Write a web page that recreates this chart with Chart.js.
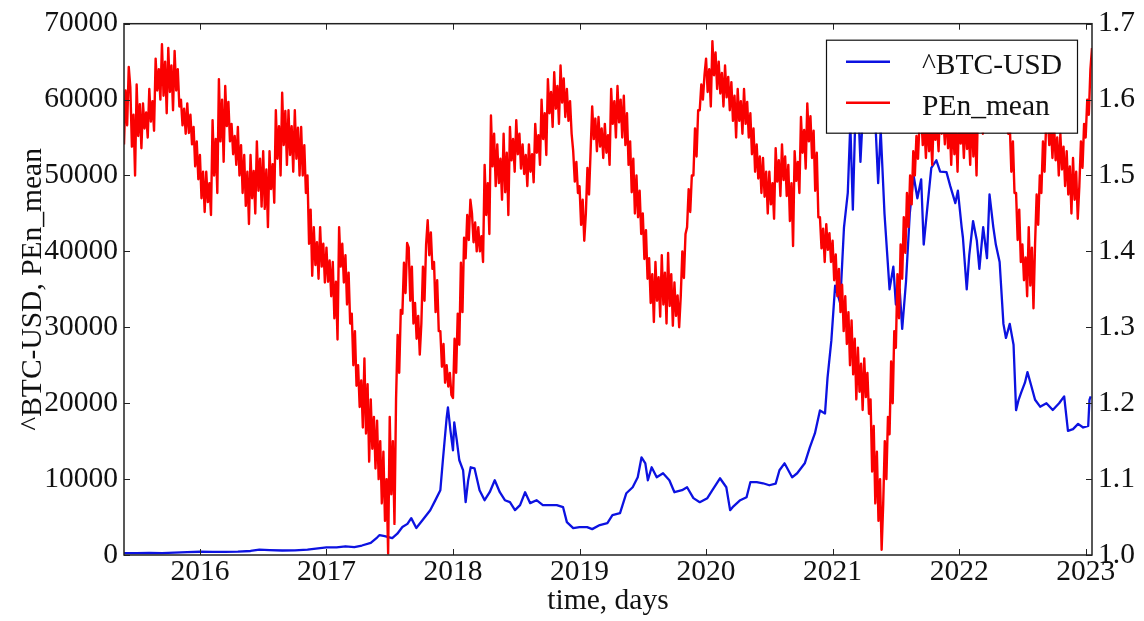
<!DOCTYPE html>
<html>
<head>
<meta charset="utf-8">
<title>^BTC-USD and PEn_mean</title>
<script src="https://cdn.jsdelivr.net/npm/chart.js@4.4.1/dist/chart.umd.min.js"></script>
<style>
  html, body { margin: 0; padding: 0; background: #fff; }
  canvas { display: block; }
</style>
</head>
<body>
<canvas id="myChart" width="1144" height="621"></canvas>
<script>
const seriesNames = ['^BTC-USD', 'PEn_mean'];
const xTicks = [2016, 2017, 2018, 2019, 2020, 2021, 2022, 2023];
const leftTicks = [0, 10000, 20000, 30000, 40000, 50000, 60000, 70000];
const rightTicks = [1.0, 1.1, 1.2, 1.3, 1.4, 1.5, 1.6, 1.7];

// BTC close, decimal year -> USD
const btcDates = [
  2015.40, 2015.50, 2015.60, 2015.70, 2015.80, 2015.90, 2016.00, 2016.10, 2016.20, 2016.30,
  2016.40, 2016.47, 2016.55, 2016.65, 2016.75, 2016.85, 2016.95, 2017.00, 2017.08, 2017.15,
  2017.22, 2017.28, 2017.35, 2017.40, 2017.42, 2017.46, 2017.52, 2017.56, 2017.60, 2017.64,
  2017.67, 2017.71, 2017.76, 2017.82, 2017.86, 2017.90, 2017.92, 2017.95, 2017.96, 2017.98,
  2018.00, 2018.01, 2018.03, 2018.05, 2018.08, 2018.10, 2018.12, 2018.14, 2018.17, 2018.21,
  2018.25, 2018.29, 2018.33, 2018.37, 2018.41, 2018.45, 2018.49, 2018.53, 2018.57, 2018.61,
  2018.66, 2018.71, 2018.77, 2018.82, 2018.87, 2018.90, 2018.95, 2019.00, 2019.06, 2019.10,
  2019.16, 2019.22, 2019.26, 2019.32, 2019.37, 2019.42, 2019.46, 2019.49, 2019.52, 2019.54,
  2019.57, 2019.61, 2019.66, 2019.71, 2019.75, 2019.81, 2019.85, 2019.90, 2019.95, 2020.01,
  2020.05, 2020.11, 2020.16, 2020.19, 2020.21, 2020.27, 2020.32, 2020.35, 2020.40, 2020.45,
  2020.50, 2020.55, 2020.58, 2020.62, 2020.68, 2020.72, 2020.78, 2020.82, 2020.86, 2020.90,
  2020.94, 2020.96, 2020.99, 2021.02, 2021.06, 2021.09, 2021.12, 2021.14, 2021.16, 2021.18,
  2021.20, 2021.22, 2021.24, 2021.27, 2021.30, 2021.33, 2021.36, 2021.38, 2021.41, 2021.43,
  2021.45, 2021.48, 2021.50, 2021.53, 2021.55, 2021.58, 2021.61, 2021.64, 2021.67, 2021.70,
  2021.72, 2021.75, 2021.78, 2021.82, 2021.85, 2021.90, 2021.93, 2021.97, 2021.99, 2022.02,
  2022.03, 2022.06, 2022.08, 2022.11, 2022.14, 2022.16, 2022.19, 2022.22, 2022.24, 2022.27,
  2022.29, 2022.32, 2022.35, 2022.37, 2022.40, 2022.43, 2022.45, 2022.47, 2022.49, 2022.52,
  2022.54, 2022.57, 2022.60, 2022.64, 2022.69, 2022.74, 2022.79, 2022.83, 2022.86, 2022.90,
  2022.94, 2022.98, 2023.02, 2023.03, 2023.04
];
const btcClose = [
  240, 250, 280, 240, 300, 380, 430, 400, 420, 450,
  530, 700, 650, 590, 620, 710, 900, 1000, 1000, 1150,
  1050, 1250, 1600, 2300, 2630, 2500, 2230, 2800, 3680, 4100,
  4860, 3550, 4600, 5900, 7200, 8540, 12480, 18100, 19440, 16400,
  13800, 17470, 15100, 12480, 11160, 6960, 9850, 11560, 11420, 8540,
  7220, 8270, 9850, 8270, 7220, 6960, 5910, 6570, 8270, 6830,
  7220, 6570, 6570, 6570, 6300, 4330, 3550, 3680, 3680, 3410,
  3940, 4200, 5250, 5520, 8140, 8930, 10240, 12870, 12080, 9850,
  11560, 10240, 10770, 9850, 8270, 8540, 8930, 7490, 6960, 7490,
  8540, 10110, 8930, 5910, 6300, 7220, 7620, 9590, 9590, 9450,
  9190, 9400, 11160, 12080, 10240, 10770, 12080, 14180, 16020, 19040,
  18650, 23380, 28240, 35500, 33180, 43180, 47720, 56810, 45500, 58000,
  60000, 51800, 58500, 61000, 57500, 60000, 49000, 56000, 45000, 40000,
  35000, 38000, 33000, 35000, 29800, 36000, 45000, 50000, 47000, 49500,
  40900, 46000, 51000, 52000, 50500, 50450, 48600, 46360, 48000, 43180,
  41800, 35000, 39500, 44000, 41400, 37700, 43200, 39100, 47500, 43200,
  40900, 38600, 30450, 28600, 30450, 27700, 19090, 20450, 21400, 22700,
  24100, 22300, 20450, 19540, 20000, 19100, 20000, 20900, 16360, 16590,
  17270, 16800, 17000, 20450, 20900
];

// PEn_mean, one value every 0.0125 year from penStart
const penStart = 2015.40;
const penStep = 0.0125;
const penMean = [
  1.541, 1.612, 1.566, 1.643, 1.616, 1.538, 1.580, 1.500, 1.620, 1.552, 1.594, 1.536,
  1.595, 1.562, 1.583, 1.550, 1.614, 1.571, 1.598, 1.559, 1.654, 1.612, 1.640, 1.600,
  1.673, 1.605, 1.650, 1.582, 1.668, 1.610, 1.645, 1.586, 1.664, 1.612, 1.640, 1.591,
  1.600, 1.566, 1.588, 1.555, 1.595, 1.556, 1.580, 1.541, 1.564, 1.512, 1.545, 1.495,
  1.527, 1.470, 1.505, 1.452, 1.505, 1.465, 1.490, 1.448, 1.573, 1.500, 1.548, 1.477,
  1.627, 1.545, 1.600, 1.518, 1.618, 1.565, 1.597, 1.545, 1.568, 1.528, 1.552, 1.514,
  1.564, 1.500, 1.540, 1.477, 1.527, 1.460, 1.505, 1.436, 1.527, 1.470, 1.506, 1.450,
  1.545, 1.480, 1.522, 1.459, 1.532, 1.456, 1.508, 1.432, 1.532, 1.482, 1.515, 1.464,
  1.586, 1.522, 1.565, 1.500, 1.609, 1.540, 1.585, 1.514, 1.586, 1.527, 1.565, 1.505,
  1.586, 1.522, 1.563, 1.500, 1.564, 1.500, 1.540, 1.477, 1.500, 1.410, 1.455, 1.368,
  1.432, 1.382, 1.412, 1.364, 1.432, 1.380, 1.410, 1.359, 1.405, 1.360, 1.388, 1.341,
  1.386, 1.312, 1.360, 1.284, 1.432, 1.380, 1.410, 1.359, 1.395, 1.330, 1.372, 1.305,
  1.318, 1.250, 1.295, 1.223, 1.250, 1.195, 1.230, 1.168, 1.259, 1.160, 1.225, 1.123,
  1.205, 1.140, 1.182, 1.114, 1.177, 1.100, 1.150, 1.068, 1.136, 1.045, 1.100, 1.002,
  1.182, 1.080, 1.150, 1.041, 1.205, 1.290, 1.240, 1.323, 1.318, 1.385, 1.345, 1.411,
  1.405, 1.335, 1.380, 1.305, 1.332, 1.285, 1.315, 1.264, 1.305, 1.380, 1.335, 1.409,
  1.441, 1.395, 1.425, 1.377, 1.386, 1.320, 1.362, 1.295, 1.295, 1.248, 1.278, 1.227,
  1.250, 1.222, 1.240, 1.211, 1.207, 1.285, 1.240, 1.318, 1.277, 1.385, 1.320, 1.418,
  1.391, 1.448, 1.415, 1.468, 1.450, 1.412, 1.438, 1.400, 1.432, 1.400, 1.420, 1.386,
  1.514, 1.448, 1.490, 1.423, 1.579, 1.512, 1.555, 1.486, 1.541, 1.490, 1.522, 1.468,
  1.555, 1.478, 1.530, 1.448, 1.564, 1.520, 1.548, 1.505, 1.573, 1.528, 1.555, 1.509,
  1.541, 1.502, 1.527, 1.486, 1.541, 1.505, 1.528, 1.491, 1.568, 1.530, 1.553, 1.514,
  1.600, 1.548, 1.582, 1.527, 1.627, 1.582, 1.610, 1.564, 1.636, 1.588, 1.618, 1.568,
  1.645, 1.596, 1.628, 1.577, 1.614, 1.572, 1.598, 1.555, 1.532, 1.492, 1.518, 1.477,
  1.486, 1.435, 1.468, 1.414, 1.450, 1.510, 1.475, 1.532, 1.591, 1.548, 1.575, 1.532,
  1.577, 1.538, 1.562, 1.523, 1.568, 1.530, 1.553, 1.514, 1.614, 1.568, 1.598, 1.550,
  1.618, 1.570, 1.600, 1.550, 1.605, 1.540, 1.582, 1.514, 1.545, 1.478, 1.522, 1.450,
  1.500, 1.445, 1.480, 1.423, 1.450, 1.390, 1.428, 1.364, 1.391, 1.332, 1.370, 1.307,
  1.386, 1.335, 1.366, 1.314, 1.395, 1.330, 1.372, 1.305, 1.398, 1.328, 1.370, 1.302,
  1.359, 1.315, 1.342, 1.300, 1.341, 1.400, 1.365, 1.423, 1.432, 1.482, 1.452, 1.500,
  1.500, 1.562, 1.525, 1.586, 1.586, 1.620, 1.600, 1.632, 1.654, 1.610, 1.640, 1.591,
  1.677, 1.632, 1.662, 1.614, 1.650, 1.608, 1.635, 1.591, 1.645, 1.603, 1.630, 1.586,
  1.623, 1.572, 1.605, 1.550, 1.614, 1.572, 1.598, 1.555, 1.614, 1.568, 1.597, 1.550,
  1.582, 1.528, 1.562, 1.505, 1.541, 1.496, 1.525, 1.477, 1.523, 1.472, 1.505, 1.450,
  1.505, 1.462, 1.490, 1.443, 1.536, 1.492, 1.520, 1.473, 1.541, 1.494, 1.525, 1.473,
  1.514, 1.440, 1.490, 1.407, 1.532, 1.493, 1.518, 1.477, 1.577, 1.530, 1.560, 1.509,
  1.595, 1.545, 1.578, 1.523, 1.559, 1.480, 1.530, 1.445, 1.445, 1.404, 1.430, 1.386,
  1.436, 1.402, 1.424, 1.386, 1.414, 1.362, 1.396, 1.341, 1.377, 1.320, 1.356, 1.295,
  1.341, 1.278, 1.320, 1.250, 1.309, 1.238, 1.285, 1.205, 1.273, 1.215, 1.252, 1.191,
  1.259, 1.208, 1.240, 1.186, 1.205, 1.110, 1.170, 1.068, 1.136, 1.045, 1.100, 1.007,
  1.068, 1.150, 1.100, 1.182, 1.159, 1.255, 1.200, 1.295, 1.273, 1.370, 1.312, 1.409,
  1.364, 1.445, 1.398, 1.477, 1.432, 1.500, 1.462, 1.532, 1.500, 1.552, 1.522, 1.573,
  1.582, 1.540, 1.566, 1.523, 1.577, 1.532, 1.560, 1.514, 1.582, 1.547, 1.568, 1.532,
  1.591, 1.555, 1.576, 1.541, 1.590, 1.536, 1.570, 1.514, 1.580, 1.528, 1.560, 1.505,
  1.585, 1.542, 1.568, 1.523, 1.580, 1.535, 1.562, 1.514, 1.590, 1.525, 1.568, 1.500,
  1.600, 1.570, 1.588, 1.555, 1.610, 1.576, 1.597, 1.559, 1.600, 1.576, 1.590, 1.564,
  1.605, 1.574, 1.592, 1.559, 1.590, 1.566, 1.580, 1.555, 1.568, 1.505, 1.545, 1.477,
  1.477, 1.415, 1.455, 1.386, 1.409, 1.362, 1.392, 1.341, 1.432, 1.355, 1.405, 1.325,
  1.409, 1.475, 1.435, 1.500, 1.477, 1.545, 1.505, 1.568, 1.580, 1.540, 1.565, 1.523,
  1.568, 1.520, 1.550, 1.500, 1.555, 1.508, 1.538, 1.486, 1.532, 1.475, 1.512, 1.450,
  1.523, 1.468, 1.505, 1.443, 1.486, 1.545, 1.510, 1.568, 1.550, 1.600, 1.580, 1.640,
  1.668, 1.645, 1.660, 1.650
];

const FONT = 'Liberation Serif, "Times New Roman", serif';
const BLUE = 'rgb(12, 18, 225)';
const RED = 'rgb(250, 0, 0)';

const btcPoints = btcDates.map((d, i) => ({ x: d, y: btcClose[i] }));
const penPoints = penMean.map((v, i) => ({ x: penStart + i * penStep, y: v }));

// frame, inward tick marks and the boxed legend inside the plot
const framePlugin = {
  id: 'frame',
  afterDatasetsDraw(chart) {
    const { ctx, chartArea: a, scales } = chart;
    ctx.save();
    ctx.strokeStyle = '#222';
    ctx.lineWidth = 1;
    ctx.beginPath();
    xTicks.forEach(v => {
      const px = Math.round(scales.x.getPixelForValue(v)) + 0.5;
      ctx.moveTo(px, a.bottom); ctx.lineTo(px, a.bottom - 6);
      ctx.moveTo(px, a.top); ctx.lineTo(px, a.top + 6);
    });
    leftTicks.forEach(v => {
      const py = Math.round(scales.y.getPixelForValue(v)) + 0.5;
      ctx.moveTo(a.left, py); ctx.lineTo(a.left + 6, py);
    });
    rightTicks.forEach(v => {
      const py = Math.round(scales.y1.getPixelForValue(v)) + 0.5;
      ctx.moveTo(a.right, py); ctx.lineTo(a.right - 6, py);
    });
    ctx.stroke();
    ctx.lineWidth = 1.5;
    ctx.strokeRect(a.left, a.top, a.right - a.left, a.bottom - a.top);

    // legend
    const bx = a.right - 266, by = a.top + 16, bw = 251, bh = 93;
    ctx.fillStyle = '#fff';
    ctx.fillRect(bx, by, bw, bh);
    ctx.lineWidth = 1.2;
    ctx.strokeStyle = '#111';
    ctx.strokeRect(bx + 0.5, by + 0.5, bw, bh);
    const colors = [BLUE, RED];
    ctx.font = '29.5px ' + FONT;
    ctx.textBaseline = 'alphabetic';
    seriesNames.forEach((name, i) => {
      const ly = by + 22 + i * 41;
      ctx.strokeStyle = colors[i];
      ctx.lineWidth = 2.6;
      ctx.beginPath();
      ctx.moveTo(bx + 20, ly); ctx.lineTo(bx + 64, ly);
      ctx.stroke();
      ctx.fillStyle = '#111';
      ctx.fillText(name, bx + 96, by + 34 + i * 41);
    });
    ctx.restore();
  }
};

const tickFont = { family: FONT, size: 29.5, lineHeight: 1.2 };

new Chart(document.getElementById('myChart'), {
  type: 'line',
  data: {
    datasets: [
      {
        label: seriesNames[1],
        data: penPoints,
        yAxisID: 'y1',
        borderColor: RED,
        borderWidth: 2.4,
        borderJoinStyle: 'round',
        pointRadius: 0,
        tension: 0,
        order: 0
      },
      {
        label: seriesNames[0],
        data: btcPoints,
        yAxisID: 'y',
        borderColor: BLUE,
        borderWidth: 2.3,
        borderJoinStyle: 'round',
        pointRadius: 0,
        tension: 0,
        order: 1
      }
    ]
  },
  options: {
    responsive: false,
    devicePixelRatio: 1,
    animation: false,
    layout: { padding: { top: 22, left: 0, right: 0, bottom: 0 } },
    plugins: {
      legend: { display: false },
      tooltip: { enabled: false }
    },
    scales: {
      x: {
        type: 'linear',
        min: 2015.40,
        max: 2023.05,
        afterBuildTicks: s => { s.ticks = xTicks.map(v => ({ value: v })); },
        afterFit: s => { s.height = 66; },
        grid: { display: false, drawTicks: false },
        border: { display: false },
        ticks: { font: tickFont, color: '#111', padding: 0, maxRotation: 0, autoSkip: false,
                 callback: v => String(v) },
        title: { display: true, text: 'time, days', color: '#111',
                 font: { family: FONT, size: 29.5, lineHeight: 1.2 }, padding: { top: 0, bottom: 2 } }
      },
      y: {
        type: 'linear',
        position: 'left',
        min: 0,
        max: 70000,
        afterBuildTicks: s => { s.ticks = leftTicks.map(v => ({ value: v })); },
        afterFit: s => { s.width = 124; },
        grid: { display: false, drawTicks: false },
        border: { display: false },
        ticks: { font: tickFont, color: '#111', padding: 6, autoSkip: false,
                 callback: v => String(v) },
        title: { display: true, text: '^BTC-USD, PEn_mean', color: '#111',
                 font: { family: FONT, size: 29.5, lineHeight: 1.2 }, padding: { top: 16, bottom: 0 } }
      },
      y1: {
        type: 'linear',
        position: 'right',
        min: 1.0,
        max: 1.7,
        afterBuildTicks: s => { s.ticks = rightTicks.map(v => ({ value: v })); },
        afterFit: s => { s.width = 52; },
        grid: { display: false, drawTicks: false },
        border: { display: false },
        ticks: { font: tickFont, color: '#111', padding: 6, autoSkip: false,
                 callback: v => v.toFixed(1) }
      }
    }
  },
  plugins: [framePlugin]
});
</script>
</body>
</html>
